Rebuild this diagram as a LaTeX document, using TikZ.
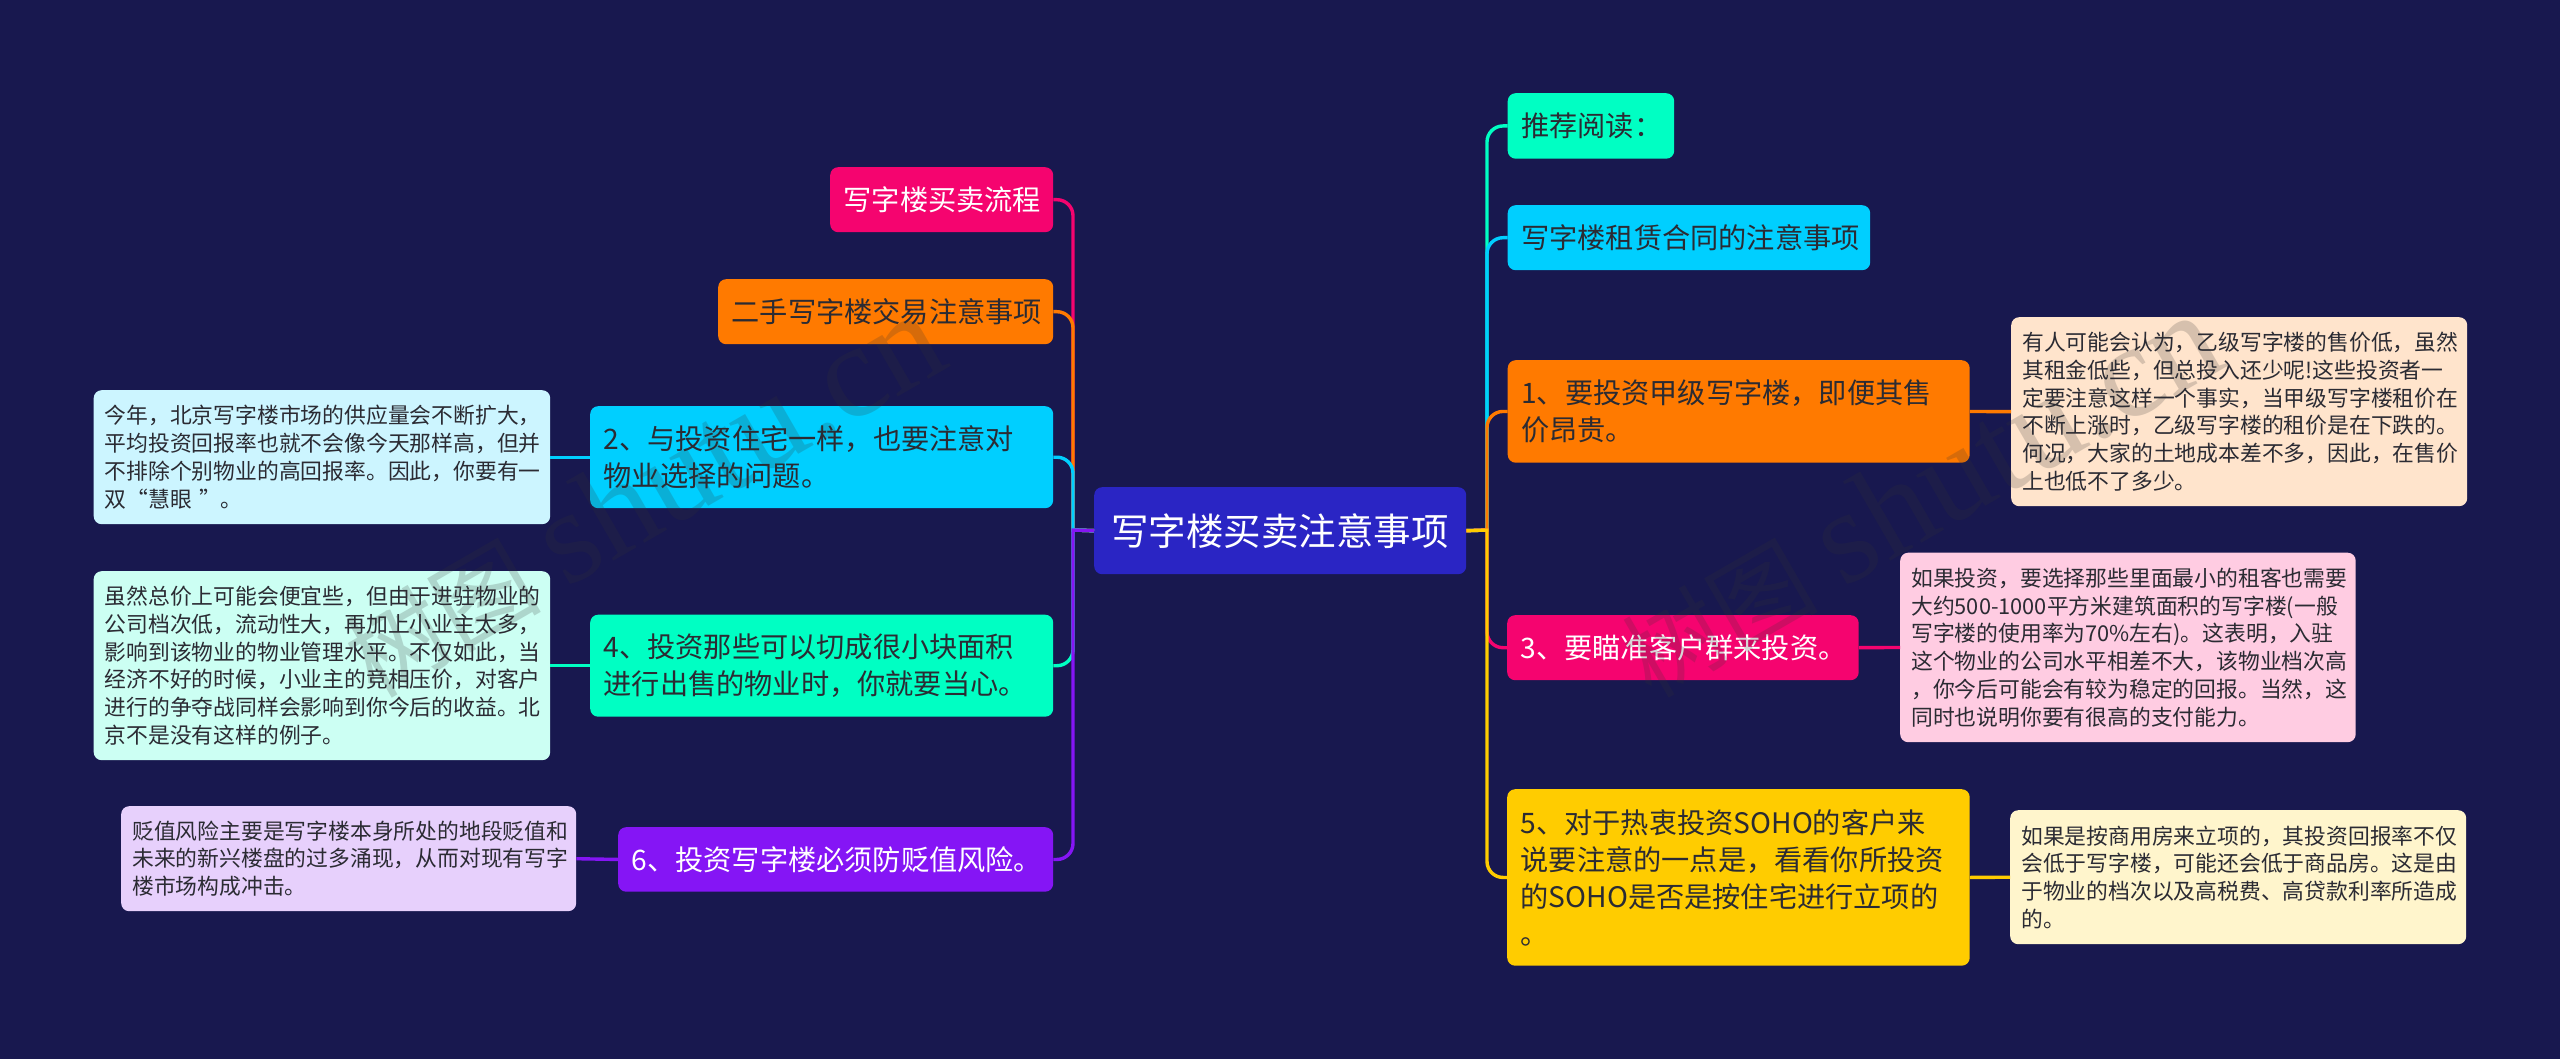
\documentclass[tikz,border=0pt]{standalone}
\usepackage{fontspec}
\setmainfont{Noto Sans CJK SC}
\newfontfamily\markserif{Liberation Serif}
\definecolor{bgc}{HTML}{18184F}
\definecolor{rootc}{HTML}{2A25C4}
\definecolor{pinkc}{HTML}{F5046F}
\definecolor{orangec}{HTML}{FF7A00}
\definecolor{cyanc}{HTML}{00CFFF}
\definecolor{tealc}{HTML}{00FFC3}
\definecolor{purplec}{HTML}{8515F5}
\definecolor{yellowc}{HTML}{FFCC00}
\definecolor{pinkn}{HTML}{FFCCE2}
\definecolor{orangen}{HTML}{FFE4CC}
\definecolor{cyann}{HTML}{CCF5FF}
\definecolor{tealn}{HTML}{CCFFF3}
\definecolor{purplen}{HTML}{E7D0FC}
\definecolor{yellown}{HTML}{FFF5CC}
\definecolor{ink}{HTML}{2B2B33}
\tikzset{
  x=1pt,y=-1pt,
  card/.style n args={5}{anchor=north west,rounded corners=8pt,inner ysep=0pt,inner xsep=#5,
    fill=#1,minimum height=#3,text width={#2-2*#5},align=left,text=#4},
  mainbox/.style n args={4}{card={#1}{#2}{#3}{#4}{13.5pt},font=\fontsize{28.2}{37}\selectfont},
  notebox/.style n args={3}{card={#1}{#2}{#3}{ink}{11pt},font=\fontsize{21.8}{27.8}\selectfont},
  conn/.style={line width=3.4pt,draw=#1},
  link/.style={line width=3.4pt,draw=#1},
  marktext/.style={anchor=base west,font=\fontsize{98}{98}\selectfont,text=black!80,text opacity=.2,rotate=30,inner sep=0pt},
}
\newcommand{\marklabel}{树图\hspace{26pt}{\markserif\fontsize{133}{133}\selectfont shutu.cn}}
\begin{document}
\begin{tikzpicture}
\useasboundingbox (0,0) rectangle (2560,1059);
\fill[bgc] (0,0) rectangle (2560,1059);
\coordinate (rt) at (1487,530);
\coordinate (lt) at (1073,530);
% nodes
\node[anchor=north west,rounded corners=8pt,fill=rootc,minimum width=372pt,minimum height=87pt,inner sep=0pt,text=white,font=\fontsize{37.5}{44}\selectfont] (root) at (1094,487) {写字楼买卖注意事项};
\node[mainbox={pinkc}{223pt}{65pt}{white}] (l1) at (830,167) {写字楼买卖流程};
\node[mainbox={orangec}{335pt}{65pt}{ink}] (l2) at (718,279) {二手写字楼交易注意事项};
\node[mainbox={cyanc}{463pt}{102pt}{ink}] (l3) at (590,406) {2、与投资住宅一样，也要注意对\\物业选择的问题。};
\node[notebox={cyann}{456.5pt}{134pt}] (l3n) at (93.5,390) {今年，北京写字楼市场的供应量会不断扩大，\\平均投资回报率也就不会像今天那样高，但并\\不排除个别物业的高回报率。因此，你要有一\\双“慧眼 ”。};
\node[mainbox={tealc}{463pt}{102pt}{ink}] (l4) at (590,614.5) {4、投资那些可以切成很小块面积\\进行出售的物业时，你就要当心。};
\node[notebox={tealn}{456.5pt}{189pt}] (l4n) at (93.5,571) {虽然总价上可能会便宜些，但由于进驻物业的\\公司档次低，流动性大，再加上小业主太多，\\影响到该物业的物业管理水平。不仅如此，当\\经济不好的时候，小业主的竞相压价，对客户\\进行的争夺战同样会影响到你今后的收益。北\\京不是没有这样的例子。};
\node[mainbox={purplec}{435pt}{64.5pt}{white}] (l6) at (618,827) {6、投资写字楼必须防贬值风险。};
\node[notebox={purplen}{455pt}{105pt}] (l6n) at (121,806) {贬值风险主要是写字楼本身所处的地段贬值和\\未来的新兴楼盘的过多涌现，从而对现有写字\\楼市场构成冲击。};
\node[mainbox={tealc}{166.5pt}{65.5pt}{ink}] (r1) at (1507.5,93) {推荐阅读：};
\node[mainbox={cyanc}{362.5pt}{65pt}{ink}] (r2) at (1507.5,205) {写字楼租赁合同的注意事项};
\node[mainbox={orangec}{462pt}{102.5pt}{ink}] (r3) at (1507.5,360) {1、要投资甲级写字楼，即便其售\\价昂贵。};
\node[notebox={orangen}{456pt}{189pt}] (r3n) at (2011,317) {有人可能会认为，乙级写字楼的售价低，虽然\\其租金低些，但总投入还少呢!这些投资者一\\定要注意这样一个事实，当甲级写字楼租价在\\不断上涨时，乙级写字楼的租价是在下跌的。\\何况，大家的土地成本差不多，因此，在售价\\上也低不了多少。};
\node[mainbox={pinkc}{351.5pt}{65pt}{white}] (r4) at (1507,615) {3、要瞄准客户群来投资。};
\node[notebox={pinkn}{455.5pt}{189.5pt}] (r4n) at (1900,552.5) {如果投资，要选择那些里面最小的租客也需要\\大约500-1000平方米建筑面积的写字楼(一般\\写字楼的使用率为70\%左右)。这表明，入驻\\这个物业的公司水平相差不大，该物业档次高\\，你今后可能会有较为稳定的回报。当然，这\\同时也说明你要有很高的支付能力。};
\node[mainbox={yellowc}{462.5pt}{176.5pt}{ink}] (r5) at (1507,789) {5、对于热衷投资SOHO的客户来\\说要注意的一点是，看看你所投资\\的SOHO是否是按住宅进行立项的\\。};
\node[notebox={yellown}{456pt}{134pt}] (r5n) at (2010,810) {如果是按商用房来立项的，其投资回报率不仅\\会低于写字楼，可能还会低于商品房。这是由\\于物业的档次以及高税费、高贷款利率所造成\\的。};
% connectors
\foreach \n/\c in {r1/tealc,r2/cyanc,r3/orangec,r4/pinkc,r5/yellowc}
  \draw[conn=\c] (root.east) -- (rt) [rounded corners=16pt] |- (\n.west);
\foreach \n/\c in {l1/pinkc,l2/orangec,l3/cyanc,l4/tealc,l6/purplec}
  \draw[conn=\c] (root.west) -- (lt) [rounded corners=16pt] |- (\n.east);
\draw[link=cyanc] (l3.west) -- (l3n.east);
\draw[link=tealc] (l4.west) -- (l4n.east);
\draw[link=purplec] (l6.west) -- (l6n.east);
\draw[link=orangec] (r3.east) -- (r3n.west);
\draw[link=pinkc] (r4.east) -- (r4n.west);
\draw[link=yellowc] (r5.east) -- (r5n.west);
% watermarks
\node[marktext] (wm1) at (374,699.5) {\marklabel};
\node[marktext] (wm2) at (1651,699.5) {\marklabel};
\end{tikzpicture}
\end{document}
